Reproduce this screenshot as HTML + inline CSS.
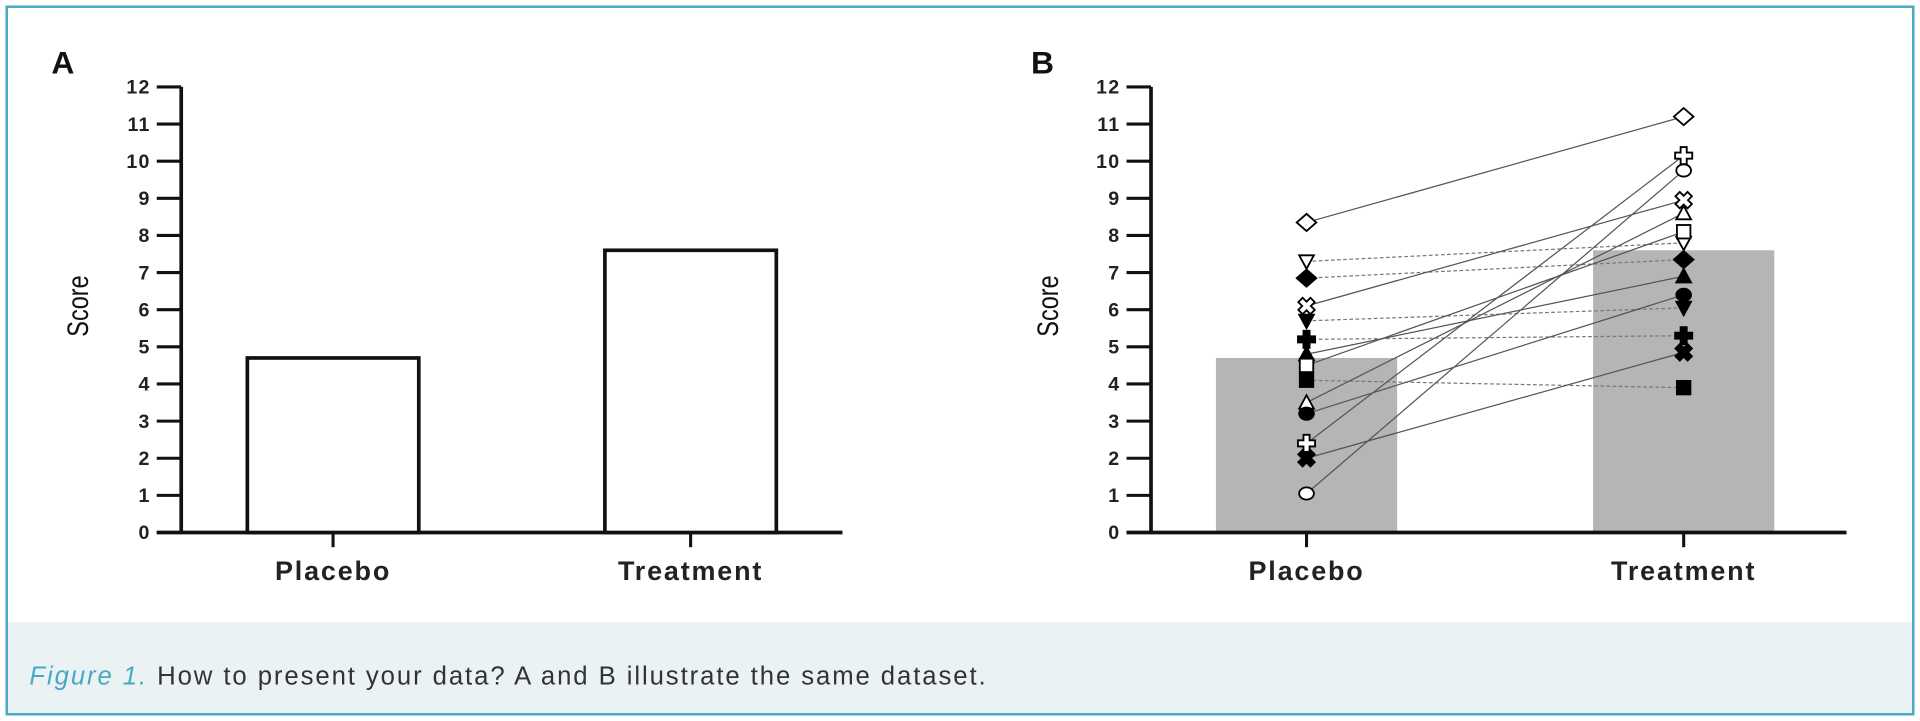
<!DOCTYPE html>
<html><head><meta charset="utf-8">
<style>
html,body{margin:0;padding:0;background:#fff;}
svg{display:block;}
</style></head>
<body>
<svg id="fig" width="1920" height="721" viewBox="0 0 1568 589" preserveAspectRatio="none" xmlns="http://www.w3.org/2000/svg" font-family="Liberation Sans, sans-serif">
  <rect x="0" y="0" width="1568" height="589" fill="#fff"/>
  <rect x="6" y="508" width="1556" height="75" fill="#eaf2f4"/>
  <rect x="5.5" y="5.5" width="1557" height="578" fill="none" stroke="#4aa8c2" stroke-width="2"/>
  <text x="24" y="559" font-size="21" fill="#333" textLength="781" lengthAdjust="spacing"><tspan fill="#4aa8c2" font-style="italic">Figure 1.</tspan> How to present your data? A and B illustrate the same dataset.</text>
  <g id="panelA"></g>
  <g id="panelB"></g>
</svg>
<script>
const categories = ["Placebo", "Treatment"];
const meanValues = [4.7, 7.6];
const yTicks = [0,1,2,3,4,5,6,7,8,9,10,11,12];
const subjectMarkers = ["diamondOpen","triDownOpen","diamondFilled","xOpen","triDownFilled","plusFilled","triUpFilled","squareOpen","squareFilled","triUpOpen","circleFilled","plusOpen","xFilled","circleOpen"];
const placeboScores = [8.35,7.3,6.85,6.1,5.7,5.2,4.8,4.5,4.1,3.5,3.2,2.4,2.0,1.05];
const treatmentScores = [11.2,7.8,7.35,8.95,6.05,5.3,6.9,8.1,3.9,8.6,6.4,10.15,4.85,9.75];
const dashedFlags = [false,true,true,false,true,true,false,false,true,false,false,false,false,false];

const NS = "http://www.w3.org/2000/svg";
function mk(tag, attrs, parent){const e=document.createElementNS(NS,tag);for(const k in attrs)e.setAttribute(k,attrs[k]);if(parent)parent.appendChild(e);return e;}
const y0 = 435, y12 = 71;
function yScale(v){return y0 - (y0 - y12) * v / 12;}

function drawAxes(g, axisX, xEnd, catX, label, labelX, scoreX){
  const t = mk("text",{x:labelX,y:60,"font-size":26,"font-weight":"bold",fill:"#111"},g);
  
  
  t.textContent = label;
  const ya = mk("line",{x1:axisX,y1:y12,x2:axisX,y2:y0,stroke:"#111","stroke-width":3},g);
  
  
  yTicks.forEach(v=>{
    const tk = mk("line",{x1:axisX-20,y1:yScale(v),x2:axisX,y2:yScale(v),stroke:"#111","stroke-width":2.5},g);
    
    
    const tl = mk("text",{x:axisX-25,y:yScale(v)+5.5,"font-size":16,"font-weight":"bold","text-anchor":"end",fill:"#222","letter-spacing":"1"},g);
    
    
    tl.textContent = v;
  });
  const xa = mk("line",{x1:axisX-20,y1:y0,x2:xEnd,y2:y0,stroke:"#111","stroke-width":3},g);
  
  
  categories.forEach((c,i)=>{
    const tk = mk("line",{x1:catX[i],y1:y0,x2:catX[i],y2:y0+12,stroke:"#111","stroke-width":2.5},g);
    
    
    const tl = mk("text",{x:catX[i],y:474,"font-size":22,"font-weight":"bold","text-anchor":"middle",fill:"#222","letter-spacing":"1.5"},g);
    
    
    tl.textContent = c;
  });
  const st = mk("text",{x:0,y:0,"font-size":24,"text-anchor":"middle",fill:"#111",transform:`translate(${scoreX},250) rotate(-90) scale(0.8,1)`},g);
  
  
  st.textContent = "Score";
}

// Panel A
const gA = document.getElementById("panelA");
const catXA = [272, 564], barWA = [140, 140];
drawAxes(gA, 148, 688, catXA, "A", 42, 72);
meanValues.forEach((v,i)=>{
  const r = mk("rect",{x:catXA[i]-barWA[i]/2,y:yScale(v),width:barWA[i],height:y0-yScale(v),fill:"#fff",stroke:"#111","stroke-width":3},gA);
  
  
});

// Panel B
const gB = document.getElementById("panelB");
const catXB = [1067, 1375];
meanValues.forEach((v,i)=>{
  const r = mk("rect",{x:catXB[i]-74,y:yScale(v),width:148,height:y0-yScale(v),fill:"#b5b5b5"},gB);
  
  
});
drawAxes(gB, 940, 1508, catXB, "B", 842, 864);

placeboScores.forEach((p,i)=>{
  const l = mk("line",{x1:catXB[0],y1:yScale(p),x2:catXB[1],y2:yScale(treatmentScores[i]),stroke:dashedFlags[i]?"#777":"#555","stroke-width":1,"stroke-dasharray":dashedFlags[i]?"3,2":"none"},gB);
  
  
});

function marker(g, type, cx, cy){
  const filled = /Filled/.test(type);
  const fill = filled ? "#000" : "#fff";
  const s = {fill:fill, stroke:"#000", "stroke-width":1.5};
  let e;
  if (type.startsWith("diamond")) e = mk("polygon",Object.assign({points:`${cx},${cy-7} ${cx+8},${cy} ${cx},${cy+7} ${cx-8},${cy}`},s),g);
  else if (type.startsWith("triDown")) e = mk("polygon",Object.assign({points:`${cx-6},${cy-5} ${cx+6},${cy-5} ${cx},${cy+6}`},s),g);
  else if (type.startsWith("triUp")) e = mk("polygon",Object.assign({points:`${cx-6},${cy+5} ${cx+6},${cy+5} ${cx},${cy-6}`},s),g);
  else if (type.startsWith("square")) e = mk("rect",Object.assign({x:cx-5.5,y:cy-5.5,width:11,height:11},s),g);
  else if (type.startsWith("circle")) e = mk("ellipse",Object.assign({cx:cx,cy:cy,rx:6,ry:5},s),g);
  else if (type.startsWith("plus")) { const a=2.5,b=7; e = mk("polygon",Object.assign({points:`${cx-a},${cy-b} ${cx+a},${cy-b} ${cx+a},${cy-a} ${cx+b},${cy-a} ${cx+b},${cy+a} ${cx+a},${cy+a} ${cx+a},${cy+b} ${cx-a},${cy+b} ${cx-a},${cy+a} ${cx-b},${cy+a} ${cx-b},${cy-a} ${cx-a},${cy-a}`},s),g); }
  else { const a=2.5,b=7; e = mk("polygon",Object.assign({points:`${cx-a},${cy-b} ${cx+a},${cy-b} ${cx+a},${cy-a} ${cx+b},${cy-a} ${cx+b},${cy+a} ${cx+a},${cy+a} ${cx+a},${cy+b} ${cx-a},${cy+b} ${cx-a},${cy+a} ${cx-b},${cy+a} ${cx-b},${cy-a} ${cx-a},${cy-a}`,transform:`rotate(45 ${cx} ${cy})`},s),g); }
  return e;
}
placeboScores.forEach((p,i)=>{
  const m1 = marker(gB, subjectMarkers[i], catXB[0], yScale(p));
  
  
  const m2 = marker(gB, subjectMarkers[i], catXB[1], yScale(treatmentScores[i]));
  
  
});
</script>
</body></html>
